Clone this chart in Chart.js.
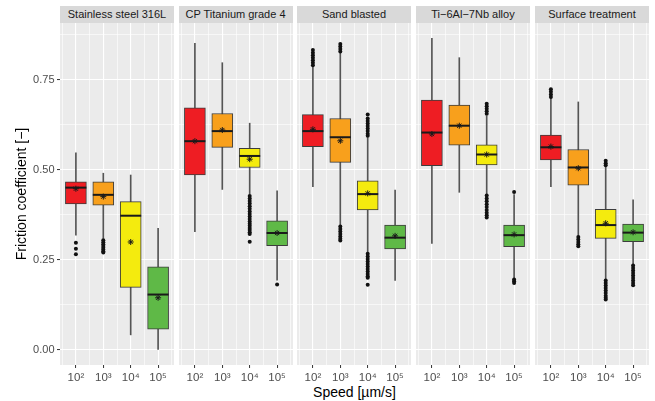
<!DOCTYPE html>
<html>
<head>
<meta charset="utf-8">
<script src="https://cdn.jsdelivr.net/npm/chart.js@4.4.0/dist/chart.umd.min.js"></script>
<style>
  body { margin: 0; background: #fff; font-family: "Liberation Sans", Arial, sans-serif; }
  #fig { position: relative; width: 655px; height: 401px; overflow: hidden; }
  .strip { position: absolute; top: 6px; height: 17px; width: 114px; background: #D9D9D9; color: #1A1A1A;
           font-size: 11px; line-height: 17px; text-align: center; white-space: nowrap; }
  canvas { position: absolute; top: 13px; }
  #xtitle { position: absolute; left: 60px; width: 589px; top: 384px; text-align: center; font-size: 14px; line-height: 16px; color: #000; }
</style>
</head>
<body>
<div id="fig">
  <div id="xtitle">Speed [µm/s]</div>
</div>
<script>
// facets and x positions (log10 of speed)
const panels = ['Stainless steel 316L', 'CP Titanium grade 4', 'Sand blasted', 'Ti\u22126Al\u22127Nb alloy', 'Surface treatment'];
const speeds = [2, 3, 4, 5];
const speedLabels = ['10²', '10³', '10⁴', '10⁵'];
const boxColors = ['#EE1D23', '#F8A01C', '#F4EB0E', '#5FB947'];

// box stats, one row per panel, one value per speed
const q1 = [
  [0.406, 0.402, 0.174, 0.058],
  [0.486, 0.563, 0.507, 0.290],
  [0.565, 0.521, 0.389, 0.281],
  [0.512, 0.569, 0.514, 0.287],
  [0.528, 0.458, 0.310, 0.301]
];
const median = [
  [0.451, 0.431, 0.373, 0.154],
  [0.580, 0.608, 0.539, 0.325],
  [0.608, 0.591, 0.433, 0.312],
  [0.604, 0.623, 0.543, 0.319],
  [0.563, 0.507, 0.347, 0.326]
];
const q3 = [
  [0.467, 0.467, 0.412, 0.231],
  [0.673, 0.657, 0.560, 0.359],
  [0.654, 0.643, 0.470, 0.347],
  [0.694, 0.680, 0.570, 0.347],
  [0.597, 0.557, 0.391, 0.350]
];
const whiskerLow = [
  [0.319, 0.310, 0.042, 0.000],
  [0.329, 0.446, 0.433, 0.194],
  [0.454, 0.347, 0.271, 0.193],
  [0.296, 0.438, 0.434, 0.200],
  [0.454, 0.318, 0.197, 0.240]
];
const whiskerHigh = [
  [0.548, 0.491, 0.486, 0.338],
  [0.852, 0.798, 0.630, 0.442],
  [0.786, 0.824, 0.590, 0.444],
  [0.866, 0.812, 0.650, 0.432],
  [0.699, 0.689, 0.508, 0.417]
];
const means = [
  [0.448, 0.426, 0.300, 0.145],
  [0.580, 0.611, 0.530, 0.325],
  [0.613, 0.581, 0.435, 0.317],
  [0.600, 0.623, 0.543, 0.321],
  [0.565, 0.505, 0.352, 0.327]
];
const outliers = [
  [[0.298, 0.281, 0.266],
   [0.305, 0.299, 0.294, 0.289, 0.284, 0.279, 0.274, 0.271],
   [], []],
  [[], [],
   [0.428, 0.421, 0.414, 0.407, 0.399, 0.392, 0.385, 0.378, 0.371, 0.364, 0.357, 0.351, 0.345, 0.339, 0.333, 0.327, 0.322, 0.301],
   [0.182]],
  [[0.833, 0.826, 0.819, 0.812, 0.805, 0.798, 0.791],
   [0.850, 0.843, 0.836, 0.829, 0.343, 0.336, 0.329, 0.322, 0.315, 0.309, 0.304],
   [0.654, 0.643, 0.636, 0.629, 0.622, 0.615, 0.608, 0.601, 0.595, 0.267, 0.260, 0.253, 0.246, 0.239, 0.232, 0.225, 0.218, 0.211, 0.205, 0.201, 0.181],
   []],
  [[], [],
   [0.684, 0.677, 0.670, 0.663, 0.656, 0.429, 0.421, 0.413, 0.405, 0.397, 0.389, 0.381, 0.374, 0.368],
   [0.439, 0.196, 0.191, 0.186]],
  [[0.724, 0.717, 0.710, 0.703],
   [0.314, 0.307, 0.300, 0.294, 0.288],
   [0.526, 0.519, 0.513, 0.193, 0.186, 0.179, 0.172, 0.165, 0.158, 0.151, 0.145, 0.140],
   [0.235, 0.228, 0.221, 0.214, 0.207, 0.200, 0.193, 0.186, 0.180]]
];

Chart.defaults.font.family = '"Liberation Sans", Arial, sans-serif';

// grey ggplot panel behind the grid
const panelBg = {
  id: 'panelBg',
  beforeDraw(chart) {
    const { ctx, chartArea: a } = chart;
    ctx.save();
    ctx.fillStyle = '#EBEBEB';
    ctx.fillRect(a.left, a.top, a.right - a.left, a.bottom - a.top);
    ctx.restore();
  }
};

const fig = document.getElementById('fig');
const panelLeft = [60, 178.5, 297, 416, 535];
const isMajorY = v => Math.abs(v * 4 - Math.round(v * 4)) < 1e-9;

panels.forEach((name, i) => {
  const strip = document.createElement('div');
  strip.className = 'strip';
  strip.style.left = panelLeft[i] + 'px';
  strip.textContent = name;
  fig.appendChild(strip);

  const first = i === 0;
  const canvas = document.createElement('canvas');
  canvas.width = first ? 174 : 114;
  canvas.height = 388;
  canvas.style.left = (first ? 0 : panelLeft[i]) + 'px';
  fig.appendChild(canvas);

  const pts = arr => speeds.map((s, j) => ({ x: s, y: arr[j] }));

  new Chart(canvas, {
    type: 'bar',
    data: {
      datasets: [
        { // whiskers
          type: 'bar', order: 5, grouped: false, barThickness: 1,
          data: speeds.map((s, j) => ({ x: s, y: [whiskerLow[i][j], whiskerHigh[i][j]] })),
          backgroundColor: '#555555'
        },
        { // boxes
          type: 'bar', order: 4, grouped: false, barThickness: 21,
          data: speeds.map((s, j) => ({ x: s, y: [q1[i][j], q3[i][j]] })),
          backgroundColor: boxColors, borderColor: '#3C3C3C', borderWidth: 1, borderSkipped: false
        },
        { // outliers
          type: 'scatter', order: 3,
          data: outliers[i].flatMap((vals, j) => vals.map(v => ({ x: speeds[j], y: v }))),
          pointRadius: 2, pointBackgroundColor: '#111111', pointBorderWidth: 0
        },
        { // medians
          type: 'scatter', order: 2, data: pts(median[i]),
          pointStyle: 'line', pointRadius: 10.5, pointBorderColor: '#1A1A1A', pointBorderWidth: 2
        },
        { // means
          type: 'scatter', order: 1, data: pts(means[i]),
          pointStyle: 'star', pointRadius: 3, pointBorderColor: '#1A1A1A', pointBorderWidth: 1
        }
      ]
    },
    options: {
      responsive: false,
      animation: false,
      events: [],
      layout: { autoPadding: false, padding: { top: 10, left: 0, right: 0, bottom: 0 } },
      plugins: { legend: { display: false }, tooltip: { enabled: false } },
      scales: {
        x: {
          type: 'linear', min: 1.42, max: 5.58, offset: false,
          afterFit: s => { s.height = 36; s.paddingLeft = 0; s.paddingRight = 0; },
          border: { display: false },
          grid: {
            offset: false, color: '#FFFFFF',
            lineWidth: c => Number.isInteger(c.tick.value) ? 1.1 : 0.6,
            tickLength: 3, tickWidth: 1,
            tickColor: c => Number.isInteger(c.tick.value) ? '#333333' : 'rgba(0,0,0,0)'
          },
          ticks: {
            stepSize: 0.5, includeBounds: false, autoSkip: false, maxRotation: 0, minRotation: 0,
            padding: 3, color: '#4D4D4D', font: { size: 11.5 },
            callback: v => Number.isInteger(v) ? speedLabels[v - 2] : ''
          }
        },
        y: {
          type: 'linear', min: -0.0417, max: 0.9083,
          afterFit: s => { s.width = first ? 60 : 0; s.paddingTop = 0; s.paddingBottom = 0; },
          border: { display: false },
          grid: {
            color: '#FFFFFF',
            lineWidth: c => isMajorY(c.tick.value) ? 1.1 : 0.6,
            drawTicks: first, tickLength: 3, tickWidth: 1,
            tickColor: c => isMajorY(c.tick.value) ? '#333333' : 'rgba(0,0,0,0)'
          },
          ticks: {
            display: first, stepSize: 0.125, includeBounds: false, autoSkip: false,
            padding: 2.5, color: '#4D4D4D', font: { size: 11 },
            callback: v => isMajorY(v) ? v.toFixed(2) : ''
          },
          title: {
            display: first, text: 'Friction coefficient [\u2212]', color: '#000000',
            font: { size: 14 }, padding: { top: 14, bottom: 0 }
          }
        }
      }
    },
    plugins: [panelBg]
  });
});
</script>
</body>
</html>
